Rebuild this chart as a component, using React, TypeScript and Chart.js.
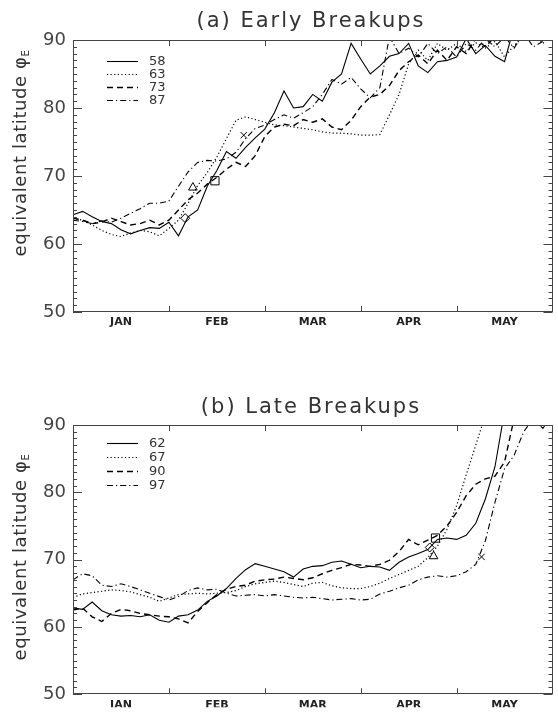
import React, { useEffect, useRef } from 'react';
import { Chart, registerables } from 'chart.js';

Chart.register(...registerables);

// ---------- data ----------
const MONTHS = ['JAN', 'FEB', 'MAR', 'APR', 'MAY'];

// position along the time axis, in months from 1 Jan
const X_MONTH = [
  0.0, 0.1, 0.2, 0.3, 0.4, 0.5, 0.6, 0.7, 0.8, 0.9,
  1.0, 1.1, 1.2, 1.3, 1.4, 1.5, 1.6, 1.7, 1.8, 1.9,
  2.0, 2.1, 2.2, 2.3, 2.4, 2.5, 2.6, 2.7, 2.8, 2.9,
  3.0, 3.1, 3.2, 3.3, 3.4, 3.5, 3.6, 3.7, 3.8, 3.9,
  4.0, 4.1, 4.2, 4.3, 4.4, 4.5, 4.6, 4.7, 4.8, 4.9, 5.0,
];

// (a) Early breakups
const EARLY_YEARS = ['58', '63', '73', '87'];
const EARLY_58 = [
  64.3, 64.8, 64.0, 63.3, 63.0, 62.1, 61.5, 62.0, 62.4, 62.3,
  63.2, 61.2, 64.0, 65.0, 68.5, 70.8, 73.6, 72.6, 74.2, 75.6,
  76.9, 79.3, 82.5, 80.0, 80.2, 82.0, 81.0, 83.8, 85.0, 89.5,
  87.2, 85.0, 86.2, 87.6, 88.0, 89.5, 86.2, 85.2, 86.8, 87.0,
  87.5, 90.2, 88.0, 89.2, 87.6, 86.8, 92.0, 93.0, 94.0, 95.0, 96.0,
];
const EARLY_63 = [
  63.8, 63.5, 62.8, 62.0, 61.4, 61.1, 61.6, 62.0, 61.8, 61.2,
  62.3, 63.5, 66.0, 68.6, 70.5, 72.8, 75.5, 78.2, 78.7, 78.3,
  77.9, 77.5, 77.4, 77.2, 77.0, 76.8, 76.5, 76.3, 76.3, 76.2,
  76.0, 76.0, 76.1, 79.0, 82.0, 86.5, 88.5, 87.0, 89.5, 88.5,
  89.5, 88.3, 89.6, 88.8, 89.8, 87.5, 89.2, 90.5, 91.0, 89.5, 91.0,
];
const EARLY_73 = [
  63.8, 63.5, 63.0, 63.2, 63.8, 63.3, 62.8, 63.0, 63.5, 62.8,
  63.5, 65.0, 66.5, 67.5, 68.8, 69.8, 71.0, 72.0, 71.4, 73.0,
  75.8, 77.2, 77.6, 77.4, 78.3, 77.9, 78.4, 77.2, 76.8, 78.2,
  80.2, 81.6, 82.0, 83.3, 85.5, 86.8, 87.8, 86.5, 88.5, 87.0,
  89.0, 88.0, 90.2, 89.0, 90.5, 91.0, 92.0, 93.0, 94.0, 95.0, 96.0,
];
const EARLY_87 = [
  63.5, 63.3, 63.0, 63.4, 63.2, 63.8, 64.5, 65.2, 66.0, 66.0,
  66.3, 68.5, 70.6, 72.0, 72.3, 72.2, 72.5, 73.5, 75.5, 77.0,
  77.5, 78.3, 79.0, 78.5, 79.3, 80.2, 82.0, 84.2, 83.5, 84.5,
  82.8, 81.5, 83.0, 90.5, 88.0, 88.8, 87.5, 89.5, 88.0, 89.0,
  87.5, 89.5, 88.5, 90.2, 89.0, 90.5, 88.8, 91.0, 89.0, 89.8, 91.0,
];
// breakup-date symbols
const EARLY_MARK_X = [1.17, 1.25, 1.48, 1.78];
const EARLY_MARK_Y = [63.8, 68.3, 69.3, 76.0];

// (b) Late breakups
const LATE_YEARS = ['62', '67', '90', '97'];
const LATE_62 = [
  62.8, 62.6, 63.7, 62.4, 61.8, 61.6, 61.7, 61.5, 61.8, 61.0,
  60.7, 61.6, 61.8, 62.5, 63.8, 64.6, 65.7, 67.2, 68.5, 69.4,
  69.0, 68.6, 68.2, 67.4, 68.6, 69.0, 69.1, 69.6, 69.8, 69.3,
  68.8, 69.0, 68.9, 68.4, 69.6, 70.4, 70.9, 71.5, 73.0, 73.2,
  73.0, 73.6, 75.4, 79.0, 83.8, 92.0, null, null, null, null, null,
];
const LATE_67 = [
  64.4, 64.9, 65.1, 65.3, 65.5, 65.4, 65.2, 64.8, 64.4, 63.8,
  64.3, 64.8, 64.9, 65.0, 64.9, 65.0, 65.1, 65.4, 66.0, 66.4,
  66.6, 66.8, 66.6, 66.3, 66.0, 66.5, 66.6, 66.1, 65.8, 65.7,
  65.7, 66.0, 66.5, 67.2, 67.8, 68.4, 69.0, 70.3, 72.0, 74.5,
  78.0, 82.6, 87.0, 91.5, null, null, null, null, null, null, null,
];
const LATE_90 = [
  62.5, 62.8, 61.5, 60.8, 62.0, 62.6, 62.4, 62.0, 61.8, 61.6,
  61.5, 61.2, 60.6, 62.3, 63.6, 64.8, 65.6, 66.0, 66.2, 66.8,
  67.0, 67.1, 67.4, 67.2, 67.0, 67.3, 67.9, 68.4, 68.8, 69.3,
  69.2, 69.0, 69.3, 69.9, 71.2, 73.0, 72.2, 72.9, 73.6, 75.0,
  77.0, 79.5, 81.2, 82.0, 82.4, 84.5, 91.0, null, null, null, null,
];
const LATE_97 = [
  67.0, 67.9, 67.6, 66.2, 66.0, 66.4, 66.0, 65.5, 65.0, 64.5,
  64.0, 64.5, 65.4, 65.8, 65.5, 65.6, 65.0, 64.6, 64.7, 64.8,
  64.6, 64.8, 64.6, 64.4, 64.3, 64.4, 64.2, 64.0, 64.1, 64.2,
  64.0, 64.1, 64.9, 65.3, 65.8, 66.2, 67.0, 67.4, 67.6, 67.4,
  67.6, 68.2, 69.3, 72.8, 78.5, 83.5, 85.5, 89.0, 91.0, 89.5, 91.5,
];
const LATE_MARK_X = [3.72, 3.76, 3.78, 4.26];
const LATE_MARK_Y = [71.8, 70.5, 73.2, 70.4];

// ---------- styles ----------
const LINE_STYLES = [
  { dash: [] as number[], width: 1.1 },
  { dash: [1.2, 2.4], width: 1.2 },
  { dash: [6, 4], width: 1.4 },
  { dash: [6, 3, 1.2, 3], width: 1.1 },
];
const MARK_STYLES = ['rectRot', 'triangle', 'rect', 'crossRot'];
const MARK_RADII = [4.5, 5, 5.8, 4.5];

const W = 558;
const H = 356;

type Spec = {
  title: string;
  years: string[];
  series: (number | null)[][];
  markX: number[];
  markY: number[];
  plotTop: number;
  plotBottom: number;
  legendY: number[];
  titleY: number;
  yTitleY: number;
};

function decorPlugin(spec: Spec) {
  return {
    id: 'decor',
    afterDraw(chart: any) {
      const { ctx, chartArea: a } = chart;
      const x = chart.scales.x;
      const y = chart.scales.y;
      ctx.save();
      ctx.strokeStyle = '#444';
      ctx.lineWidth = 1;
      ctx.setLineDash([]);
      const seg = (x1: number, y1: number, x2: number, y2: number) => {
        ctx.beginPath();
        ctx.moveTo(x1, y1);
        ctx.lineTo(x2, y2);
        ctx.stroke();
      };
      // frame
      ctx.strokeRect(Math.round(a.left) + 0.5, Math.round(a.top) + 0.5,
        Math.round(a.right - a.left) - 1, Math.round(a.bottom - a.top) - 1);
      // y ticks (major every 10, minor every 1), inward on both sides
      for (let v = y.min; v <= y.max; v += 1) {
        const py = Math.round(y.getPixelForValue(v)) + 0.5;
        const len = v % 10 === 0 ? 9 : 4;
        seg(a.left, py, a.left + len, py);
        seg(a.right, py, a.right - len, py);
      }
      // month boundary ticks, bottom and top
      for (let m = 1; m < MONTHS.length; m++) {
        const px = Math.round(x.getPixelForValue(m)) + 0.5;
        seg(px, a.bottom, px, a.bottom - 6);
        seg(px, a.top, px, a.top + 6);
      }
      // legend
      ctx.font = '13px "DejaVu Sans"';
      ctx.fillStyle = '#333';
      ctx.textBaseline = 'middle';
      ctx.textAlign = 'left';
      spec.years.forEach((yr, i) => {
        const st = LINE_STYLES[i];
        const ly = spec.legendY[i] + 0.5;
        ctx.strokeStyle = '#000';
        ctx.lineWidth = st.width;
        ctx.setLineDash(st.dash);
        seg(107, ly, 138, ly);
        ctx.setLineDash([]);
        ctx.fillText(yr, 149, ly);
      });
      // title
      ctx.fillStyle = '#333';
      ctx.font = '21px "DejaVu Sans"';
      (ctx as any).letterSpacing = '2px';
      ctx.textAlign = 'center';
      ctx.fillText(spec.title, 311, spec.titleY);
      // y-axis title with subscript
      ctx.translate(21, spec.yTitleY);
      ctx.rotate(-Math.PI / 2);
      (ctx as any).letterSpacing = '0.6px';
      ctx.textAlign = 'left';
      ctx.font = '18px "DejaVu Sans"';
      const main = 'equivalent latitude φ';
      const w1 = ctx.measureText(main).width;
      ctx.font = '10px "DejaVu Sans"';
      const w2 = ctx.measureText('E').width;
      const start = -(w1 + w2) / 2;
      ctx.font = '18px "DejaVu Sans"';
      ctx.fillText(main, start, 0);
      ctx.font = '10px "DejaVu Sans"';
      ctx.fillText('E', start + w1, 5);
      ctx.restore();
    },
  };
}

function buildConfig(spec: Spec): any {
  const datasets: any[] = spec.series.map((vals, i) => ({
    label: spec.years[i],
    data: X_MONTH.map((xv, j) => ({ x: xv, y: vals[j] })),
    borderColor: '#000',
    borderWidth: LINE_STYLES[i].width,
    borderDash: LINE_STYLES[i].dash,
    pointRadius: 0,
    tension: 0,
    fill: false,
    spanGaps: false,
  }));
  datasets.push({
    label: 'breakup',
    data: spec.markX.map((xv, j) => ({ x: xv, y: spec.markY[j] })),
    showLine: false,
    pointStyle: MARK_STYLES,
    pointRadius: MARK_RADII,
    pointBorderColor: '#000',
    pointBackgroundColor: 'rgba(255,255,255,0)',
    pointBorderWidth: 1,
    borderColor: '#000',
  });
  return {
    type: 'line',
    data: { datasets },
    options: {
      responsive: false,
      animation: false,
      devicePixelRatio: 1,
      events: [],
      layout: { padding: { top: spec.plotTop, right: 1, left: 0, bottom: 0 } },
      plugins: {
        legend: { display: false },
        tooltip: { enabled: false },
        title: { display: false },
      },
      scales: {
        x: {
          type: 'linear',
          min: 0,
          max: MONTHS.length,
          grid: { display: false, drawTicks: false },
          border: { display: false },
          afterBuildTicks: (s: any) => {
            s.ticks = MONTHS.map((_, i) => ({ value: i + 0.5 }));
          },
          afterFit: (s: any) => {
            s.height = H - spec.plotBottom;
          },
          ticks: {
            autoSkip: false,
            maxRotation: 0,
            padding: 4,
            color: '#222',
            font: { family: 'DejaVu Sans', size: 11, weight: 'bold' },
            callback: (v: any) => MONTHS[Math.floor(Number(v))] ?? '',
          },
        },
        y: {
          type: 'linear',
          min: 50,
          max: 90,
          grid: { display: false, drawTicks: false },
          border: { display: false },
          afterFit: (s: any) => {
            s.width = 73;
          },
          ticks: {
            stepSize: 10,
            padding: 7,
            color: '#444',
            font: { family: 'DejaVu Sans', size: 18 },
          },
        },
      },
    },
    plugins: [decorPlugin(spec)],
  };
}

const EARLY_SPEC: Spec = {
  title: '(a) Early Breakups',
  years: EARLY_YEARS,
  series: [EARLY_58, EARLY_63, EARLY_73, EARLY_87],
  markX: EARLY_MARK_X,
  markY: EARLY_MARK_Y,
  plotTop: 40,
  plotBottom: 312,
  legendY: [61, 74, 87, 100],
  titleY: 22,
  yTitleY: 153,
};

const LATE_SPEC: Spec = {
  title: '(b) Late Breakups',
  years: LATE_YEARS,
  series: [LATE_62, LATE_67, LATE_90, LATE_97],
  markX: LATE_MARK_X,
  markY: LATE_MARK_Y,
  plotTop: 69,
  plotBottom: 343,
  legendY: [87, 101, 115, 129],
  titleY: 52,
  yTitleY: 201,
};

function Panel({ spec, top }: { spec: Spec; top: number }) {
  const ref = useRef<HTMLCanvasElement | null>(null);
  useEffect(() => {
    if (!ref.current) return;
    const chart = new Chart(ref.current, buildConfig(spec));
    return () => chart.destroy();
  }, [spec]);
  return (
    <div style={{ position: 'absolute', left: 0, top, width: W, height: H }}>
      <canvas ref={ref} width={W} height={H} style={{ display: 'block', width: W, height: H }} />
    </div>
  );
}

export default function App() {
  return (
    <div style={{ position: 'absolute', left: 0, top: 0, width: W, height: 712, background: '#fff' }}>
      <Panel spec={EARLY_SPEC} top={0} />
      <Panel spec={LATE_SPEC} top={356} />
    </div>
  );
}
